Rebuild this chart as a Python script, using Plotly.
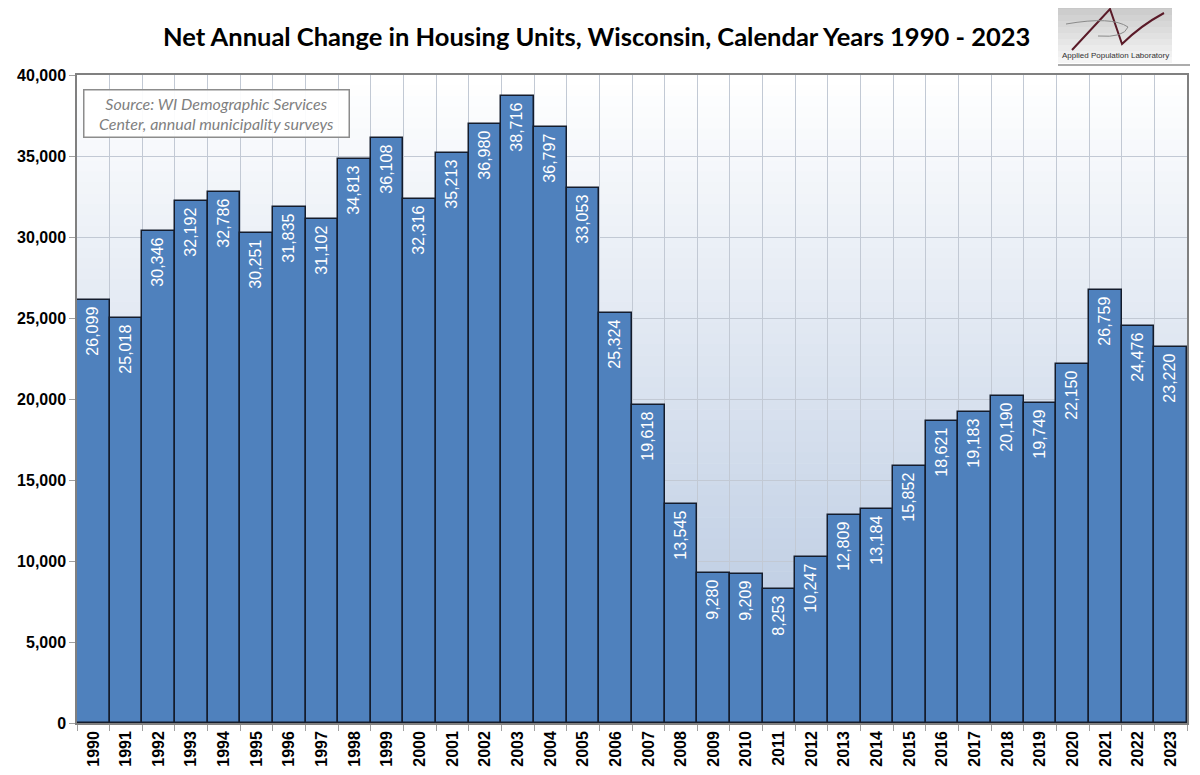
import plotly.graph_objects as go

years = [str(y) for y in range(1990, 2024)]
units = [26099, 25018, 30346, 32192, 32786, 30251, 31835, 31102, 34813, 36108,
         32316, 35213, 36980, 38716, 36797, 33053, 25324, 19618, 13545, 9280,
         9209, 8253, 10247, 12809, 13184, 15852, 18621, 19183, 20190, 19749,
         22150, 26759, 24476, 23220]
labels = [f"{v:,}\u00a0" for v in units]

OFF = 8  # page body margin in the browser
W, H = 1200 - OFF, 775 - OFF
ML, MR, MT, MB = 77 - OFF, 13, 75 - OFF, 52
PW, PH = W - ML - MR, H - MT - MB


def px(x):
    return (x - OFF - ML) / PW


def py(y):
    return (H - MB - (y - OFF)) / PH


fig = go.Figure()
fig.add_trace(go.Bar(
    x=years, y=units, text=labels,
    marker=dict(color="#4f81bd", line=dict(color="#141c2c", width=1.5)),
    textposition="inside", insidetextanchor="end", textangle=-90,
    textfont=dict(family="Liberation Sans, Arial", size=16, color="white"),
    cliponaxis=False, hoverinfo="x+y",
))

shapes = []
# gradient background
N = 60
top = (255, 255, 255)
bot = (178, 196, 222)
for i in range(N):
    t = i / (N - 1)
    c = tuple(round(top[k] + (bot[k] - top[k]) * t) for k in range(3))
    shapes.append(dict(type="rect", xref="x domain", yref="y domain",
                       x0=0, x1=1, y0=1 - (i + 1) / N, y1=1 - i / N + 0.001,
                       fillcolor=f"rgb{c}", line=dict(width=0), layer="below"))

# logo
for i in range(10):
    g = 200 + i * 5
    shapes.append(dict(type="rect", xref="paper", yref="paper",
                       x0=px(1058), x1=px(1172), y0=py(3 + 6 * (i + 1)), y1=py(3 + 6 * i),
                       fillcolor=f"rgb({g},{g},{g})", line=dict(width=0), layer="above"))
shapes.append(dict(type="line", xref="paper", yref="paper",
                   x0=px(1058), x1=px(1190), y0=py(65), y1=py(65),
                   line=dict(color="#909090", width=1.5), layer="above"))
shapes.append(dict(type="path", xref="paper", yref="paper",
                   path=f"M {px(1072)},{py(50)} L {px(1110)},{py(9)} L {px(1122)},{py(44)} "
                        f"Q {px(1140)},{py(26)} {px(1164)},{py(13)}",
                   line=dict(color="#5a1a28", width=2), layer="above"))
shapes.append(dict(type="path", xref="paper", yref="paper",
                   path=f"M {px(1066)},{py(24)} Q {px(1112)},{py(16)} {px(1128)},{py(27)} "
                        f"Q {px(1124)},{py(38)} {px(1098)},{py(36)}",
                   line=dict(color="#8a8a8a", width=1), layer="above"))

annotations = [
    dict(text="<b>Net Annual Change in Housing Units, Wisconsin, Calendar Years 1990 - 2023</b>",
         xref="paper", yref="paper", x=px(596), y=py(36), xanchor="center", yanchor="middle",
         showarrow=False, font=dict(family="Lato, Liberation Sans", size=25.5, color="black")),
    dict(text="<i>Source: WI Demographic Services<br>Center, annual municipality surveys</i>",
         xref="paper", yref="paper", x=px(83), y=py(89), xanchor="left", yanchor="top",
         showarrow=False, align="center", width=264, height=46,
         bgcolor="rgba(255,255,255,0.92)", bordercolor="#8c8c8c", borderwidth=1.5, borderpad=0,
         font=dict(family="Lato, Liberation Sans", size=16, color="#7f7f7f")),
    dict(text="Applied Population Laboratory", xref="paper", yref="paper",
         x=px(1115), y=py(56), xanchor="center", yanchor="middle", showarrow=False,
         font=dict(family="Liberation Sans Narrow, Liberation Sans", size=8, color="#333333")),
]

fig.update_layout(
    width=W, height=H,
    margin=dict(l=ML, r=MR, t=MT, b=MB, pad=0),
    paper_bgcolor="white", plot_bgcolor="white",
    bargap=0, showlegend=False,
    shapes=shapes, annotations=annotations,
    font=dict(family="Liberation Sans, Arial", color="black"),
)
fig.update_xaxes(
    type="category", tickangle=-90, tickson="boundaries", ticks="outside", ticklen=6,
    tickcolor="#a0a0a0", showgrid=True, gridcolor="#c2c9d4", gridwidth=1,
    showline=True, linecolor="#808080", linewidth=1.5, mirror=True, automargin=False,
    tickfont=dict(family="Liberation Sans, Arial", size=16, color="black", weight="bold"),
)
fig.update_yaxes(
    range=[0, 40000], dtick=5000, tickformat=",", ticks="outside", ticklen=6,
    tickcolor="#a0a0a0", showgrid=True, gridcolor="#c2c9d4", gridwidth=1,
    showline=True, linecolor="#808080", linewidth=1.5, mirror=True, zeroline=False,
    automargin=False,
    tickfont=dict(family="Liberation Sans, Arial", size=16, color="black", weight="bold"),
)

fig.write_html("out.html")
